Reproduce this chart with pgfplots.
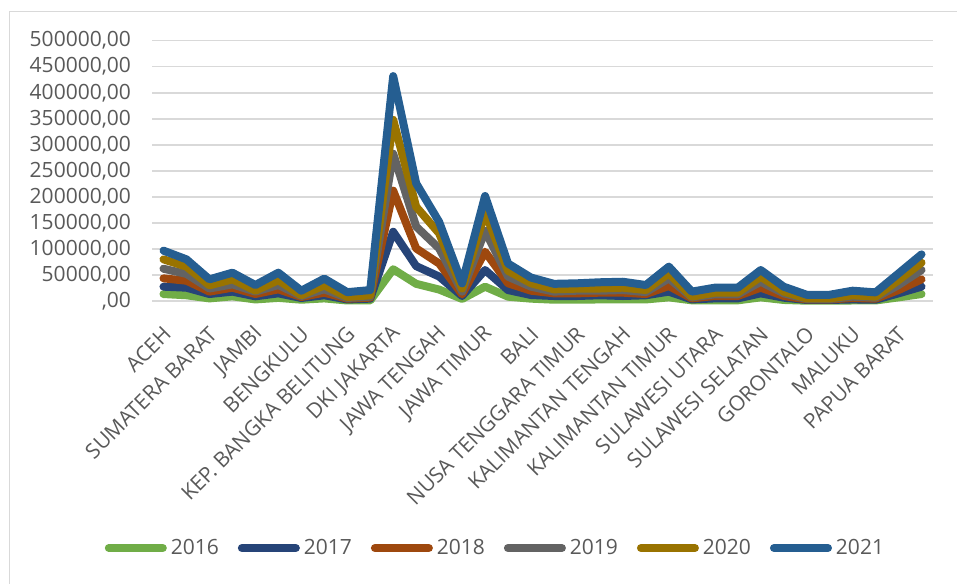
\documentclass[border=0pt]{standalone}
\usepackage{pgfplots}
\usepackage{pgfplotstable}
\pgfplotsset{compat=1.18}
\usepackage{fontspec}
\setmainfont{Open Sans}
\definecolor{c16}{HTML}{70AD47}
\definecolor{c17}{HTML}{264478}
\definecolor{c18}{HTML}{9E480E}
\definecolor{c19}{HTML}{636363}
\definecolor{c20}{HTML}{997300}
\definecolor{c21}{HTML}{255E91}
\definecolor{txt}{HTML}{595959}
\definecolor{gridc}{HTML}{D9D9D9}

\pgfplotstableread{
i  a2016  a2017  a2018  a2019  a2020  a2021
0  13400  27500  43500  62000  80000  96700
1  11000  25600  39000  52000  66000  80000
2  5000   13400  18000  24000  30000  41600
3  9000   18000  25600  32000  41600  54400
4  3000   9000   13400  18000  19800  30700
5  6000   14700  22400  30700  40000  54400
6  2500   5800   7700   9600   11000  19800
7  5000   11000  16000  22400  30000  43000
8  1000   3000   4500   5800   7700   17000
9  1000   4500   6400   8300   11000  21000
10 61000  133000 212000 283000 348000 432000
11 33000  67000  101000 143000 181000 226000
12 22000  47000  72000  101000 130000 152000
13 4000   9600   12800  18000  24000  34000
14 27500  59500  94700  135000 170000 201700
15 8300   21000  34000  46700  58000  72000
16 4500   11500  19800  27500  34000  45000
17 2500   9600   14700  18000  22400  33000
18 2500   9600   14700  19800  23700  34000
19 3000   11000  16000  19800  24000  36000
20 3000   9600   16000  21000  25600  37000
21 3000   11000  13400  17000  21000  30700
22 7000   18000  28800  43500  53000  66000
23 1300   3000   5000   7000   8300   18000
24 1300   5000   9600   12800  16000  25600
25 1300   5000   9600   12800  16000  25600
26 7000   14700  25600  37000  46700  59500
27 2000   6400   9600   14700  18000  27500
28 600    2000   3000   3800   5000   12000
29 600    2000   3000   3800   5000   12000
30 1000   3000   5800   8300   11000  19800
31 1000   2500   4500   6400   8300   16600
32 7000   14700  21000  30700  40000  53000
33 13400  27500  41600  59500  73600  89600
}\datatable

\begin{document}
\begin{tikzpicture}
\useasboundingbox (0pt,0pt) rectangle (478.5pt,-291.5pt);
\draw[gridc, line width=0.75pt] (4.75pt,-300pt) -- (4.75pt,-5.75pt) -- (500pt,-5.75pt);
\begin{axis}[
  at={(76pt,-150.5pt)}, anchor=south west,
  scale only axis, width=390.5pt, height=130.15pt,
  xmin=-0.5, xmax=33.5, ymin=0, ymax=500000,
  scaled y ticks=false,
  axis line style={draw=none},
  major tick length=0pt,
  ymajorgrids, grid style={gridc, line width=0.75pt},
  ytick={0,50000,...,500000},
  yticklabels={{,00},{50000,00},{100000,00},{150000,00},{200000,00},{250000,00},{300000,00},{350000,00},{400000,00},{450000,00},{500000,00}},
  xtick={0,2,...,32},
  xticklabels={ACEH,SUMATERA BARAT,JAMBI,BENGKULU,KEP. BANGKA BELITUNG,DKI JAKARTA,JAWA TENGAH,JAWA TIMUR,BALI,NUSA TENGGARA TIMUR,KALIMANTAN TENGAH,KALIMANTAN TIMUR,SULAWESI UTARA,SULAWESI SELATAN,GORONTALO,MALUKU,PAPUA BARAT},
  ticklabel style={font=\fontsize{10.5}{12.5}\selectfont, text=txt},
  yticklabel style={xshift=-7pt},
  xticklabel style={xshift=4.3pt, yshift=-12.3pt, rotate=45, anchor=east},
  clip=false,
  legend columns=6,
  legend style={at={(0.441,-0.949)}, anchor=center, draw=none, fill=none,
    font=\fontsize{10.5}{12.5}\selectfont, text=txt,
    /tikz/every even column/.append style={column sep=7.5pt}},
  legend image code/.code={\draw[#1, line cap=round] (0pt,0pt) -- (27pt,0pt);},
  every axis plot/.append style={line width=4pt, line join=round, line cap=round},
]
\addplot[c16] table[x=i, y=a2016] {\datatable}; \addlegendentry{2016}
\addplot[c17] table[x=i, y=a2017] {\datatable}; \addlegendentry{2017}
\addplot[c18] table[x=i, y=a2018] {\datatable}; \addlegendentry{2018}
\addplot[c19] table[x=i, y=a2019] {\datatable}; \addlegendentry{2019}
\addplot[c20] table[x=i, y=a2020] {\datatable}; \addlegendentry{2020}
\addplot[c21] table[x=i, y=a2021] {\datatable}; \addlegendentry{2021}
\end{axis}
\end{tikzpicture}
\end{document}
